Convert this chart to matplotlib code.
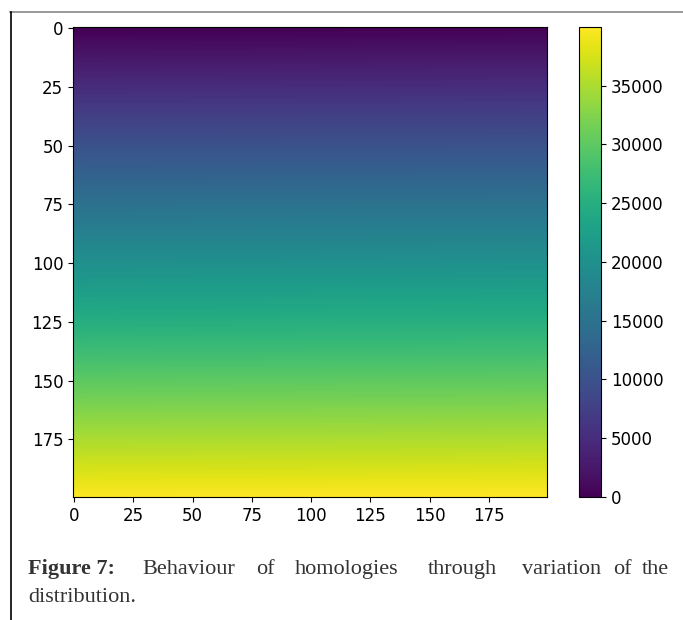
import numpy as np
import matplotlib
matplotlib.use("Agg")
import matplotlib.pyplot as plt
from matplotlib.lines import Line2D

# grid shown in the figure: 200 x 200 cells, values counting up row by row
n_rows = 200
n_cols = 200
grid = np.arange(n_rows * n_cols).reshape(n_rows, n_cols)

axis_ticks = [0, 25, 50, 75, 100, 125, 150, 175]
cbar_ticks = [0, 5000, 10000, 15000, 20000, 25000, 30000, 35000]

caption_words = ["Behaviour", "of", "homologies", "through", "variation", "of", "the"]
# word centres in pixels
caption_x = [189, 265, 347, 462, 562, 622, 655]

plt.rcParams["font.size"] = 12

W, H = 683, 620
fig = plt.figure(figsize=(W / 100, H / 100), dpi=100)

ax = fig.add_axes([73 / W, 1 - 497 / H, (547 - 73) / W, (497 - 27) / H])
im = ax.imshow(grid, cmap="viridis", aspect="auto")
ax.set_xticks(axis_ticks)
ax.set_yticks(axis_ticks)

cax = fig.add_axes([579 / W, 1 - 497 / H, (601 - 579) / W, (497 - 27) / H])
cb = fig.colorbar(im, cax=cax, ticks=cbar_ticks)

# frame lines of the page
fig.add_artist(Line2D([10 / W, 1], [1 - 12 / H] * 2, color="#888888", lw=1.2))
fig.add_artist(Line2D([11 / W] * 2, [0, 1 - 12 / H], color="black", lw=1.2))

# caption, laid out word by word as in the justified original
cap = dict(family="Liberation Serif", fontsize=16, color="#333333", va="baseline")
fig.text(28 / W, 1 - 574 / H, "Figure 7:", fontweight="bold", **cap)
for w, x in zip(caption_words, caption_x):
    fig.text(x / W, 1 - 574 / H, w, ha="center", **cap)
fig.text(28 / W, 1 - 602 / H, "distribution.", **cap)

fig.savefig("out.png", dpi=100)
